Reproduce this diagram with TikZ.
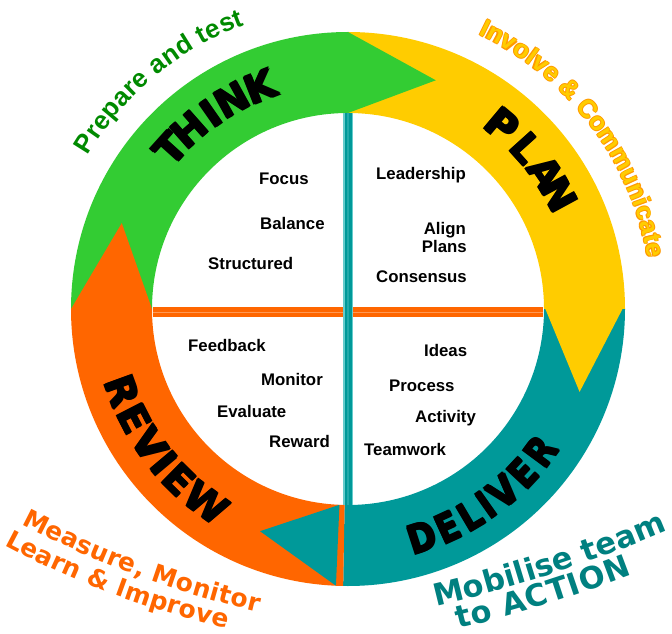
\documentclass[tikz,border=0pt]{standalone}
\usepackage{fontspec}
\usepackage{graphicx}
\newfontfamily\innerfont{Liberation Sans Bold}
\newfontfamily\wordfont{DejaVu Sans Bold}
\newfontfamily\armfont{Liberation Sans Bold}
\newfontfamily\widefont{DejaVu Sans Bold}
\definecolor{ringgreen}{HTML}{33CC33}
\definecolor{ringyellow}{HTML}{FFCC00}
\definecolor{ringteal}{HTML}{009999}
\definecolor{ringorange}{HTML}{FF6600}
\definecolor{txtgreen}{HTML}{008A00}
\definecolor{txtyellowedge}{HTML}{FF9900}
\definecolor{txtteal}{HTML}{008080}
\definecolor{lineteallight}{HTML}{66CCCC}
\definecolor{linetealmid}{HTML}{22AAAA}
\definecolor{lineorangelight}{HTML}{FF9955}
\newcommand\fPrep{\armfont\fontsize{26}{30}\selectfont}
\newcommand\fInv{\armfont\fontsize{25.2}{30}\selectfont}
\newcommand\fMeas{\widefont\fontsize{25}{30}\selectfont}
\newcommand\fMob{\widefont\fontsize{30.5}{34}\selectfont}
% thicker letters: four diagonal copies behind the glyph
\newcommand\heavyd[2]{\leavevmode
  \rlap{\hspace*{#1}\raisebox{#1}{#2}}\rlap{\hspace*{#1}\raisebox{-#1}{#2}}%
  \rlap{\hspace*{-#1}\raisebox{#1}{#2}}\rlap{\hspace*{-#1}\raisebox{-#1}{#2}}%
  #2}
\newcommand\heavyA[1]{\heavyd{0.8pt}{#1}}
\newcommand\heavyO[1]{\heavyd{0.75pt}{#1}}
\newcommand\plainw[1]{#1}
\newdimen\rttot
\newbox\rtbox
% measure the characters (outside the picture)
\newcommand\measuretext[3]{%
  \global\rttot=0pt
  \foreach \c [count=\k] in {#3}{%
    \setbox\rtbox=\hbox{#2\c}%
    \expandafter\xdef\csname rtw@#1@\k\endcsname{\the\wd\rtbox}%
    \global\advance\rttot by \wd\rtbox
    \xdef\rtcnt{\k}%
  }%
  \expandafter\xdef\csname rttot@#1\endcsname{\the\rttot}%
  \expandafter\xdef\csname rtcnt@#1\endcsname{\rtcnt}%
}
% #1 key, #2 node name, #3 font, #4 colour, #5 radius, #6 start angle, #7 end angle, #8 wrapper, #9 characters
\newcommand\ringtext[9]{%
  \begingroup
  \pgfmathsetmacro\rtDir{(#7>#6)?1:-1}%
  \pgfmathsetmacro\rtLen{abs(#7-#6)*pi/180*#5}%
  \edef\rtTotal{\csname rttot@#1\endcsname}%
  \edef\rtN{\csname rtcnt@#1\endcsname}%
  \pgfmathsetmacro\rtGap{(\rtLen-\rtTotal)/max(\rtN-1,1)}%
  \gdef\rtPos{0}%
  \foreach \c [count=\k] in {#9}{%
    \edef\rtWd{\csname rtw@#1@\k\endcsname}%
    \pgfmathsetmacro\rtW{\rtWd}%
    \pgfmathsetmacro\rtA{#6+\rtDir*(\rtPos+\rtW/2)/#5*180/pi}%
    \pgfmathsetmacro\rtR{\rtA+\rtDir*90}%
    \node[font=#3, text=#4, inner sep=0pt, anchor=base, rotate=\rtR] (#2\k) at (\rtA:#5) {#8{\c}};
    \pgfmathsetmacro\rtP{\rtPos+\rtW+\rtGap}\xdef\rtPos{\rtP}%
  }%
  \endgroup}
\begin{document}
\measuretext{prep}{\fPrep}{P,r,e,p,a,r,e,\ ,a,n,d,\ ,t,e,s,t}%
\measuretext{inv}{\fInv}{I,n,v,o,l,v,e,\ ,\&,\ ,C,o,m,m,u,n,i,c,a,t,e}%
\measuretext{meas}{\fMeas}{M,e,a,s,u,r,e,{,},\ ,M,o,n,i,t,o,r}%
\measuretext{learn}{\fMeas}{L,e,a,r,n,\ ,\&,\ ,I,m,p,r,o,v,e}%
\measuretext{mob}{\fMob}{M,o,b,i,l,i,s,e,\ ,t,e,a,m}%
\measuretext{act}{\fMob}{t,o,\ ,A,C,T,I,O,N}%
\begin{tikzpicture}[x=1pt,y=1pt,
  innerword/.style={font=\innerfont\fontsize{16.8}{20}\selectfont, inner sep=0pt, text=black},
  bigletter/.style={font=\wordfont\fontsize{39.5}{46}\selectfont, inner sep=0pt, anchor=center, text=black},
]
\fill[white] (0,0) rectangle (672,633);
\useasboundingbox (0,0) rectangle (672,633);
\begin{scope}[shift={(348,324)}]
  % ring bodies
  \fill[ringgreen] (180:277) arc[start angle=180,end angle=90,radius=277] -- (90:196) arc[start angle=90,end angle=180,radius=196] -- cycle;
  \fill[ringyellow] (90:277) arc[start angle=90,end angle=0,radius=277] -- (0:196) arc[start angle=0,end angle=90,radius=196] -- cycle;
  \fill[ringteal] (0:277) arc[start angle=0,end angle=-91,radius=277] -- (-91:196) arc[start angle=-91,end angle=0,radius=196] -- cycle;
  \fill[ringorange] (269:277) arc[start angle=269,end angle=180,radius=277] -- (180:196) arc[start angle=180,end angle=269,radius=196] -- cycle;
  % inner cross
  \draw[ringorange, line width=10] (-195,-3) -- (195,-3);
  \draw[lineorangelight, line width=1] (-195,-3) -- (195,-3);
  \draw[lineteallight, line width=10] (0,195.5) -- (0,-195.5);
  \draw[ringteal, line width=7] (0,195.5) -- (0,-195.5);
  \draw[linetealmid, line width=1.2] (0,195.5) -- (0,-195.5);
  % arrow heads
  \fill[ringgreen] (90:196) -- (90:277) -- (69:245) -- cycle;
  \fill[ringyellow] (1:196) -- (1:277) -- (-19.7:246) -- cycle;
  \fill[ringteal] (267.5:196) -- (267.5:277) -- (248.4:239) -- cycle;
  \fill[ringorange] (180:196) -- (180:277) -- (159.2:242) -- cycle;
  % big words along the ring
  \foreach \l/\a [count=\i] in {T/138, H/131.5, I/125, N/119, K/111.5}
    \node[bigletter, rotate=\a-90] (think\i) at (\a:239) {\heavyA{\l}};
  \foreach \l/\a [count=\i] in {P/50, L/42, A/34.5, N/28.5}
    \node[bigletter, rotate=\a-90] (plan\i) at (\a:240) {\heavyA{\l}};
  \foreach \l/\a [count=\i] in {R/200, E/207.2, V/214.4, I/220, E/225.4, W/233.8}
    \node[bigletter, rotate=\a+90] (review\i) at (\a:240) {\heavyA{\l}};
  \foreach \l/\a [count=\i] in {D/-72, E/-65.4, L/-59.4, I/-54.7, V/-49.6, E/-43.1, R/-36.5}
    \node[bigletter, rotate=\a+90] (deliver\i) at (\a:240) {\scalebox{0.85}[1]{\heavyA{\l}}};
  % outer texts on arcs
  \ringtext{prep}{prep}{\fPrep}{txtgreen}{302}{149.5}{110}{\plainw}{P,r,e,p,a,r,e,\ ,a,n,d,\ ,t,e,s,t}
  \ringtext{inv}{invedge}{\fInv}{txtyellowedge}{304}{64.6}{9.6}{\heavyO}{I,n,v,o,l,v,e,\ ,\&,\ ,C,o,m,m,u,n,i,c,a,t,e}
  \ringtext{inv}{inv}{\fInv}{ringyellow}{304}{64.6}{9.6}{\plainw}{I,n,v,o,l,v,e,\ ,\&,\ ,C,o,m,m,u,n,i,c,a,t,e}
\end{scope}
% inner words
\node[innerword, anchor=base west] (focus) at (259,448) {Focus};
\node[innerword, anchor=base west] (balance) at (260,403) {Balance};
\node[innerword, anchor=base west] (structured) at (208,363) {Structured};
\node[innerword, anchor=base west] (leadership) at (376,453) {Leadership};
\node[innerword, anchor=base east] (align) at (466,399) {Align};
\node[innerword, anchor=base east] (plans) at (467,381) {Plans};
\node[innerword, anchor=base west] (consensus) at (376,351) {Consensus};
\node[innerword, anchor=base west] (feedback) at (188,282) {Feedback};
\node[innerword, anchor=base west] (monitor) at (261,248) {Monitor};
\node[innerword, anchor=base west] (evaluate) at (217,216) {Evaluate};
\node[innerword, anchor=base west] (reward) at (269,186) {Reward};
\node[innerword, anchor=base west] (ideas) at (424,277) {Ideas};
\node[innerword, anchor=base west] (process) at (389,242) {Process};
\node[innerword, anchor=base west] (activity) at (415,211) {Activity};
\node[innerword, anchor=base west] (teamwork) at (364,178) {Teamwork};
% lower outer texts
\begin{scope}[shift={(486.1,998.2)}]
  \ringtext{meas}{meas}{\fMeas}{ringorange}{1003.5}{242.39}{256.86}{\plainw}{M,e,a,s,u,r,e,{,},\ ,M,o,n,i,t,o,r}
\end{scope}
\begin{scope}[shift={(423,872)}]
  \ringtext{learn}{learn}{\fMeas}{ringorange}{889}{241.88}{257.26}{\plainw}{L,e,a,r,n,\ ,\&,\ ,I,m,p,r,o,v,e}
\end{scope}
\begin{scope}[shift={(115.8,1397.6)}]
  \ringtext{mob}{mob}{\fMob}{txtteal}{1408}{-76.85}{-66.9}{\plainw}{M,o,b,i,l,i,s,e,\ ,t,e,a,m}
  \ringtext{act}{act}{\fMob}{txtteal}{1435}{-76.2}{-68.9}{\plainw}{t,o,\ ,A,C,T,I,O,N}
\end{scope}
\end{tikzpicture}
\end{document}
